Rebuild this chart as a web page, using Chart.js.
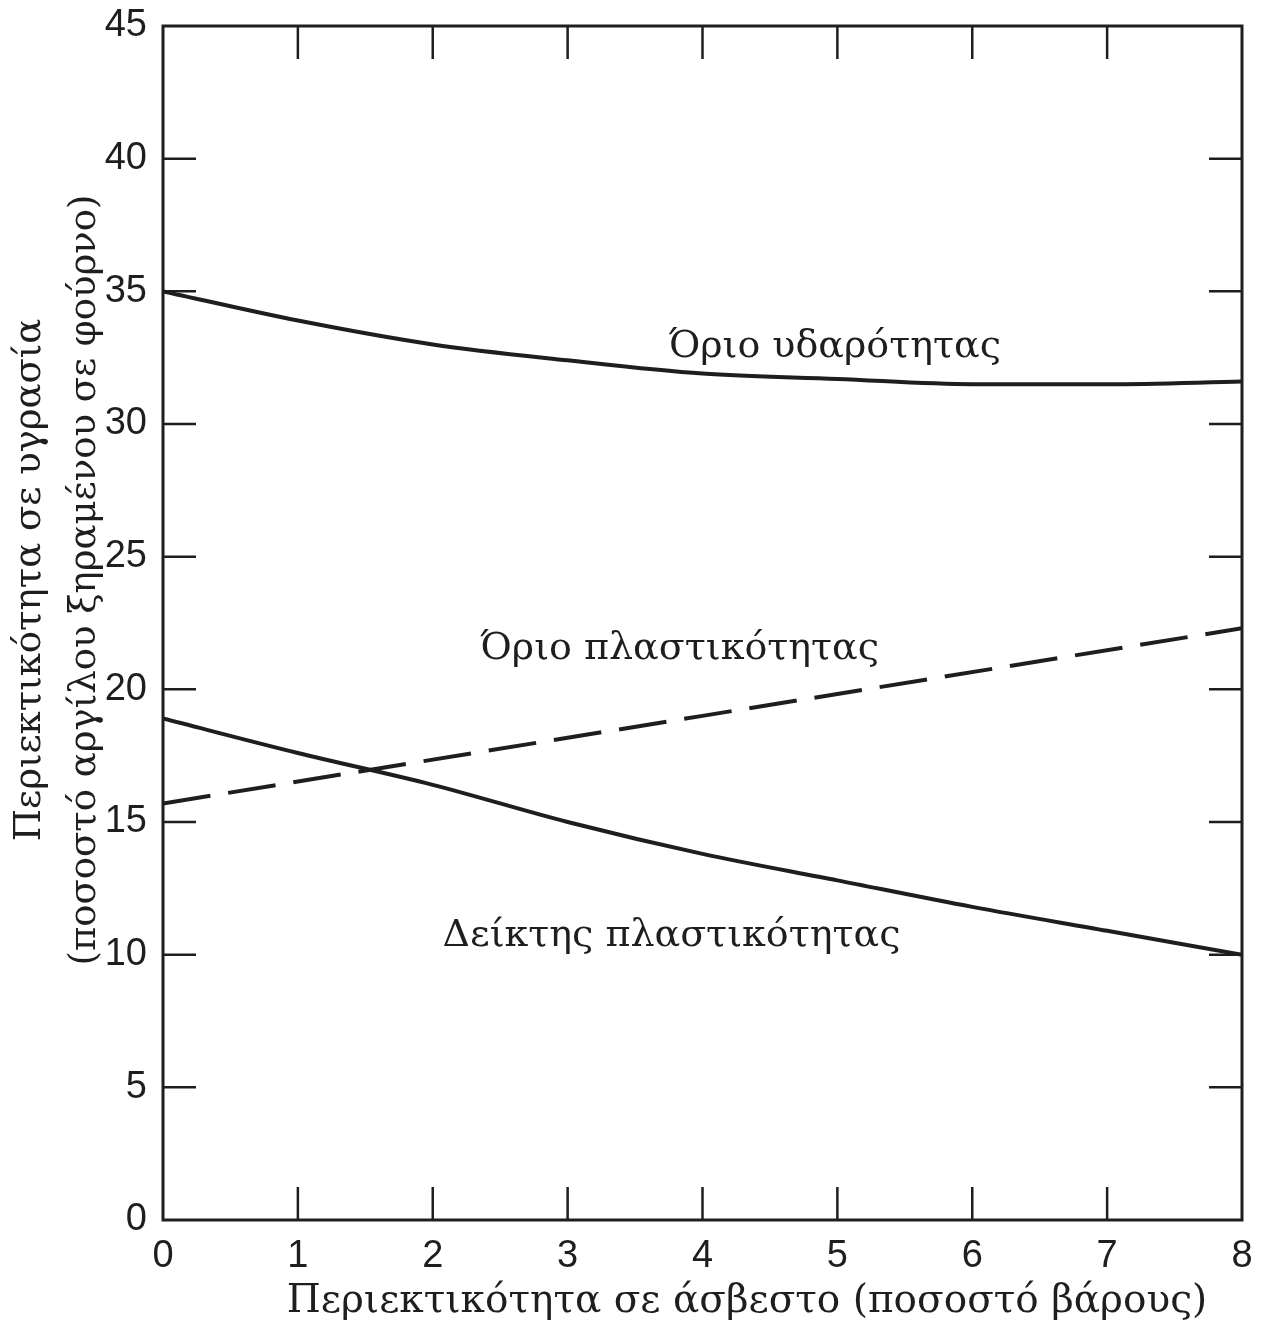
<!DOCTYPE html>
<html>
<head>
<meta charset="utf-8">
<script src="https://cdn.jsdelivr.net/npm/chart.js@4.4.1/dist/chart.umd.min.js"></script>
<style>
  html, body { margin: 0; padding: 0; background: #fff; }
</style>
</head>
<body>
<canvas id="chart" width="1267" height="1328"></canvas>
<script>
// values
const limeContent = [0, 1, 2, 3, 4, 5, 6, 7, 8];
const liquidLimit = [35.0, 33.9, 33.0, 32.4, 31.9, 31.7, 31.5, 31.5, 31.6];
const plasticityIndex = [18.9, 17.6, 16.4, 15.0, 13.8, 12.8, 11.8, 10.9, 10.0];
const plasticX = [0, 4, 8];
const plasticLimit = [15.7, 19.0, 22.3];

const xTicks = [0, 1, 2, 3, 4, 5, 6, 7, 8];
const yTicks = [0, 5, 10, 15, 20, 25, 30, 35, 40, 45];

const xTitle = 'Περιεκτικότητα σε άσβεστο (ποσοστό βάρους)';
const yTitle = ['Περιεκτικότητα σε υγρασία', '(ποσοστό αργίλου ξηραμένου σε φούρνο)'];

const curveLabels = [
  { text: 'Όριο υδαρότητας', x: 4.98, y: 32.9 },
  { text: 'Όριο πλαστικότητας', x: 3.83, y: 21.5 },
  { text: 'Δείκτης πλαστικότητας', x: 3.77, y: 10.7 }
];

const ink = '#1e1e1e';
const serif = '"DejaVu Serif", serif';
const sans = '"Liberation Sans", Arial, sans-serif';

const toPoints = (xs, ys) => xs.map((x, i) => ({ x: x, y: ys[i] }));

// box with inward ticks on all four sides, axis titles and curve captions
const frame = {
  id: 'frame',
  afterDraw(chart) {
    const { ctx, chartArea: a, scales: { x, y } } = chart;
    const len = 33;
    ctx.save();
    ctx.strokeStyle = ink;
    ctx.lineWidth = 3;
    ctx.strokeRect(a.left, a.top, a.right - a.left, a.bottom - a.top);
    ctx.lineWidth = 2.5;
    ctx.beginPath();
    xTicks.slice(1, -1).forEach(v => {
      const px = x.getPixelForValue(v);
      ctx.moveTo(px, a.bottom); ctx.lineTo(px, a.bottom - len);
      ctx.moveTo(px, a.top); ctx.lineTo(px, a.top + len);
    });
    yTicks.slice(1, -1).forEach(v => {
      const py = y.getPixelForValue(v);
      ctx.moveTo(a.left, py); ctx.lineTo(a.left + len, py);
      ctx.moveTo(a.right, py); ctx.lineTo(a.right - len, py);
    });
    ctx.stroke();

    ctx.fillStyle = ink;
    ctx.textAlign = 'center';
    ctx.textBaseline = 'middle';
    ctx.font = '38px ' + serif;
    curveLabels.forEach(l => {
      ctx.fillText(l.text, x.getPixelForValue(l.x), y.getPixelForValue(l.y));
    });

    ctx.font = '39px ' + serif;
    ctx.fillText(xTitle, 747, 1302);

    ctx.save();
    ctx.translate(0, 580);
    ctx.rotate(-Math.PI / 2);
    ctx.font = '37px ' + serif;
    ctx.fillText(yTitle[0], 0, 30);
    ctx.fillText(yTitle[1], 0, 85);
    ctx.restore();
    ctx.restore();
  }
};

new Chart(document.getElementById('chart'), {
  type: 'line',
  plugins: [frame],
  data: {
    datasets: [{
      label: 'Όριο υδαρότητας',
      data: toPoints(limeContent, liquidLimit),
      borderColor: ink,
      borderWidth: 4,
      pointRadius: 0,
      cubicInterpolationMode: 'monotone'
    }, {
      label: 'Όριο πλαστικότητας',
      data: toPoints(plasticX, plasticLimit),
      borderColor: ink,
      borderWidth: 4,
      borderDash: [48, 18],
      pointRadius: 0
    }, {
      label: 'Δείκτης πλαστικότητας',
      data: toPoints(limeContent, plasticityIndex),
      borderColor: ink,
      borderWidth: 4,
      pointRadius: 0,
      cubicInterpolationMode: 'monotone'
    }]
  },
  options: {
    responsive: false,
    animation: false,
    events: [],
    layout: {
      autoPadding: false,
      padding: { top: 26, right: 25, left: 0, bottom: 0 }
    },
    plugins: {
      legend: { display: false },
      tooltip: { enabled: false }
    },
    scales: {
      x: {
        type: 'linear',
        min: 0,
        max: 8,
        afterFit: s => { s.height = 108; s.paddingLeft = 0; s.paddingRight = 0; },
        afterBuildTicks: s => { s.ticks = xTicks.map(v => ({ value: v })); },
        grid: { display: false, drawTicks: false },
        border: { display: false },
        ticks: {
          color: ink,
          padding: 14,
          maxRotation: 0,
          font: { family: sans, size: 38 }
        }
      },
      y: {
        type: 'linear',
        min: 0,
        max: 45,
        afterFit: s => { s.width = 163; s.paddingTop = 0; s.paddingBottom = 0; },
        afterBuildTicks: s => { s.ticks = yTicks.map(v => ({ value: v })); },
        grid: { display: false, drawTicks: false },
        border: { display: false },
        ticks: {
          color: ink,
          padding: 16,
          font: { family: sans, size: 38 }
        }
      }
    }
  }
});
</script>
</body>
</html>
